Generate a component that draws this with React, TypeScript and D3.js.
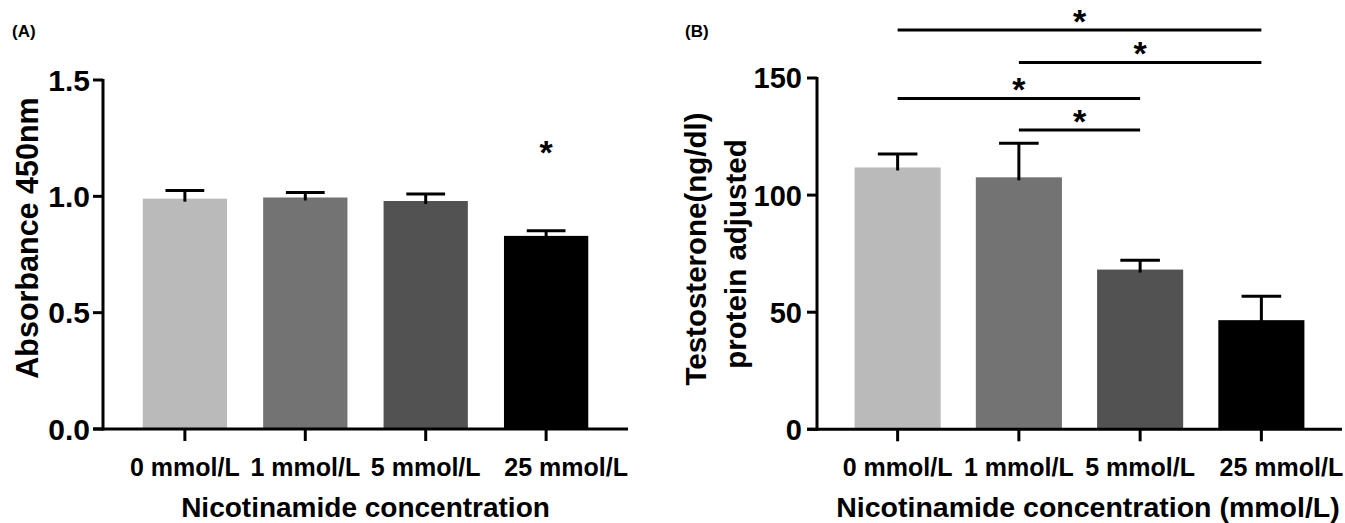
import React from "react";
import { scaleBand, scaleLinear, format } from "d3";

// data
const categories = ["0 mmol/L", "1 mmol/L", "5 mmol/L", "25 mmol/L"];
const absorbanceMean = [0.99, 0.995, 0.98, 0.83];
const absorbanceSem = [0.035, 0.022, 0.03, 0.022];
const absorbanceTicks = [0, 0.5, 1.0, 1.5];
const absorbanceStars = [{ index: 3, level: 1.22 }];

const testosteroneMean = [111.8, 107.6, 68.2, 46.6];
const testosteroneSem = [5.7, 14.5, 4.0, 10.2];
const testosteroneTicks = [0, 50, 100, 150];
const testosteroneComparisons = [
  { from: 0, to: 3, level: 170.5 },
  { from: 1, to: 3, level: 156.6 },
  { from: 0, to: 2, level: 141.2 },
  { from: 1, to: 2, level: 127.8 },
];

const barColors = ["#bababa", "#737373", "#525252", "#000000"];
const font = "'Liberation Sans', Arial, sans-serif";
const stroke = 3;

type PanelProps = {
  x: any;
  y: any;
  means: number[];
  sems: number[];
  ticks: number[];
  tickFormat: (v: number) => string;
  tickSize: number;
  tickGap: number;
};

function BarPanel(props: PanelProps) {
  const { x, y, means, sems, ticks, tickFormat, tickSize, tickGap } = props;
  const x0 = x.range()[0];
  const x1 = x.range()[1];
  const bw = x.bandwidth();
  const capW = bw * 0.46;

  return (
    <g>
      {means.map((m, i) => (
        <rect
          key={"bar" + i}
          x={x(categories[i])}
          y={y(m)}
          width={bw}
          height={y(0) - y(m)}
          fill={barColors[i]}
        />
      ))}
      {means.map((m, i) => {
        const cx = x(categories[i]) + bw / 2;
        return (
          <g key={"err" + i} stroke="#000" strokeWidth={stroke}>
            <line x1={cx} x2={cx} y1={y(m) + 3} y2={y(m + sems[i])} />
            <line x1={cx - capW / 2} x2={cx + capW / 2} y1={y(m + sems[i])} y2={y(m + sems[i])} />
          </g>
        );
      })}
      {/* y axis */}
      <line x1={x0} x2={x0} y1={y(ticks[ticks.length - 1]) - 1} y2={y(0) + 1.5} stroke="#000" strokeWidth={stroke} />
      {ticks.map((t) => (
        <g key={"yt" + t}>
          <line x1={x0 - 10} x2={x0} y1={y(t)} y2={y(t)} stroke="#000" strokeWidth={stroke} />
          <text
            x={x0 - 10 - tickGap}
            y={y(t)}
            dy="0.36em"
            textAnchor="end"
            fontFamily={font}
            fontWeight="bold"
            fontSize={tickSize}
          >
            {tickFormat(t)}
          </text>
        </g>
      ))}
      {/* x axis */}
      <line x1={x0 - 10} x2={x1} y1={y(0)} y2={y(0)} stroke="#000" strokeWidth={stroke} />
      {categories.map((c, i) => {
        const cx = x(c) + bw / 2;
        // the last label sits a little to the right, as in the original layout
        const nudge = i === categories.length - 1 ? 20 : 0;
        return (
          <g key={"xt" + c}>
            <line x1={cx} x2={cx} y1={y(0)} y2={y(0) + 12} stroke="#000" strokeWidth={stroke} />
            <text
              x={cx}
              dx={nudge}
              y={y(0) + 47}
              textAnchor="middle"
              fontFamily={font}
              fontWeight="bold"
              fontSize={25}
            >
              {c}
            </text>
          </g>
        );
      })}
    </g>
  );
}

export default function App() {
  const xA = scaleBand<string>().domain(categories).range([103, 628]).paddingInner(0.3).paddingOuter(0.33);
  const yA = scaleLinear().domain([0, 1.5]).range([429, 80]);
  const xB = scaleBand<string>().domain(categories).range([817, 1342]).paddingInner(0.29).paddingOuter(0.31);
  const yB = scaleLinear().domain([0, 150]).range([429.3, 78]);

  const starSize = 34;

  return (
    <svg
      width={1345}
      height={523}
      style={{ position: "absolute", left: 0, top: 0, display: "block", background: "#fff" }}
    >
      <rect width={1345} height={523} fill="#fff" />
      {/* Panel A */}
      <text x={12} y={37} fontFamily={font} fontWeight="bold" fontSize={17}>
        (A)
      </text>
      <BarPanel
        x={xA}
        y={yA}
        means={absorbanceMean}
        sems={absorbanceSem}
        ticks={absorbanceTicks}
        tickFormat={format(".1f")}
        tickSize={30}
        tickGap={3}
      />
      {absorbanceStars.map((s) => (
        <text
          key={"sa" + s.index}
          x={xA(categories[s.index]) + xA.bandwidth() / 2}
          y={yA(s.level) + starSize * 0.55}
          textAnchor="middle"
          fontFamily={font}
          fontWeight="bold"
          fontSize={starSize}
        >
          *
        </text>
      ))}
      <text
        transform="translate(38,238) rotate(-90)"
        textAnchor="middle"
        fontFamily={font}
        fontWeight="bold"
        fontSize={30.5}
      >
        Absorbance 450nm
      </text>
      <text x={(103 + 628) / 2} y={517} textAnchor="middle" fontFamily={font} fontWeight="bold" fontSize={28}>
        Nicotinamide concentration
      </text>

      {/* Panel B */}
      <text x={685} y={37} fontFamily={font} fontWeight="bold" fontSize={17}>
        (B)
      </text>
      <BarPanel
        x={xB}
        y={yB}
        means={testosteroneMean}
        sems={testosteroneSem}
        ticks={testosteroneTicks}
        tickFormat={format("d")}
        tickSize={29}
        tickGap={5}
      />
      {testosteroneComparisons.map((c, i) => {
        const a = xB(categories[c.from]) + xB.bandwidth() / 2;
        const b = xB(categories[c.to]) + xB.bandwidth() / 2;
        return (
          <g key={"cmp" + i}>
            <line x1={a} x2={b} y1={yB(c.level)} y2={yB(c.level)} stroke="#000" strokeWidth={stroke} />
            <text
              x={(a + b) / 2}
              y={yB(c.level) - 16 + starSize * 0.55}
              textAnchor="middle"
              fontFamily={font}
              fontWeight="bold"
              fontSize={starSize}
            >
              *
            </text>
          </g>
        );
      })}
      <text
        transform="translate(706,249) rotate(-90)"
        textAnchor="middle"
        fontFamily={font}
        fontWeight="bold"
        fontSize={29.5}
      >
        Testosterone(ng/dl)
      </text>
      <text
        transform="translate(746,254) rotate(-90)"
        textAnchor="middle"
        fontFamily={font}
        fontWeight="bold"
        fontSize={29.5}
      >
        protein adjusted
      </text>
      <text x={1088} y={517} textAnchor="middle" fontFamily={font} fontWeight="bold" fontSize={28.5}>
        Nicotinamide concentration (mmol/L)
      </text>
    </svg>
  );
}
